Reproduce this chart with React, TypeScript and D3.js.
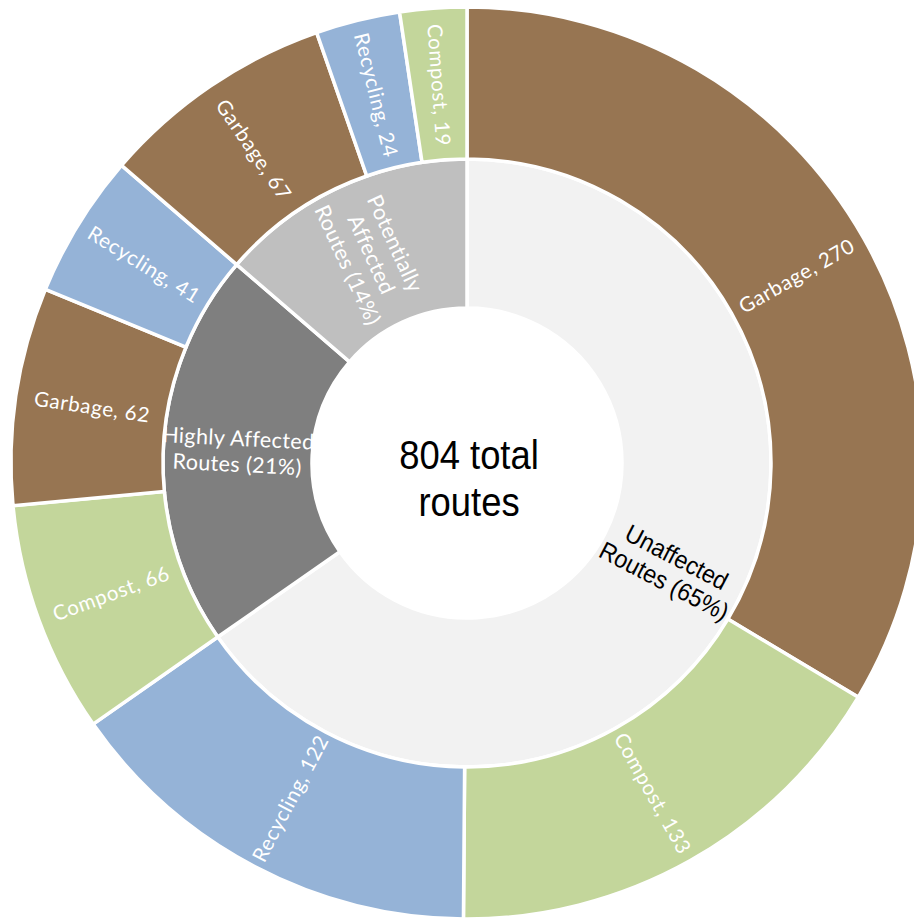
import React from "react";
import * as d3 from "d3";

// ---- data ----
const groupNames = ["Unaffected Routes", "Highly Affected Routes", "Potentially Affected Routes"];
const groupLabelLines = [
  ["Unaffected", "Routes (65%)"],
  ["Highly Affected", "Routes (21%)"],
  ["Potentially", "Affected", "Routes (14%)"],
];
const groupColors = ["#F2F2F2", "#7F7F7F", "#BFBFBF"];
const groupTextColors = ["#000000", "#FFFFFF", "#FFFFFF"];

const outerGroup = [0, 0, 0, 1, 1, 1, 2, 2, 2];
const outerCategories = ["Garbage", "Compost", "Recycling", "Compost", "Garbage", "Recycling", "Garbage", "Recycling", "Compost"];
const outerValues = [270, 133, 122, 66, 62, 41, 67, 24, 19];

const categoryNames = ["Garbage", "Recycling", "Compost"];
const categoryColors = ["#977552", "#95B3D7", "#C3D69B"];

const centerLines = ["804 total", "routes"];

// ---- layout ----
const W = 914;
const H = 919;
const CX = 467;
const CY = 463;
const R_HOLE = 155;
const R_MID = 304;
const R_OUT = 456;

export default function App() {
  const groupTotals = groupNames.map((_, gi) =>
    d3.sum(outerValues.filter((_, i) => outerGroup[i] === gi))
  );
  const pie = d3.pie<number>().sort(null).value((d) => d);
  const innerArcs = pie(groupTotals);
  const outerArcs = pie(outerValues);

  const innerArc = d3.arc<d3.PieArcDatum<number>>().innerRadius(R_HOLE).outerRadius(R_MID);
  const outerArc = d3.arc<d3.PieArcDatum<number>>().innerRadius(R_MID).outerRadius(R_OUT);
  const labelArc = d3.arc<d3.PieArcDatum<number>>().innerRadius(R_MID).outerRadius(R_OUT - 2);
  const color = d3.scaleOrdinal<string, string>().domain(categoryNames).range(categoryColors);

  const rot = (a: d3.PieArcDatum<number>) => {
    const m = ((a.startAngle + a.endAngle) / 2) * (180 / Math.PI);
    return m < 180 ? m - 90 : m - 270;
  };

  return (
    <div style={{ position: "absolute", left: 0, top: 0 }}>
      <svg width={W} height={H} style={{ display: "block", background: "#fff" }}>
        <g transform={`translate(${CX},${CY})`}>
          {innerArcs.map((a, i) => (
            <path key={"i" + i} d={innerArc(a) || ""} fill={groupColors[i]} stroke="#fff" strokeWidth={3.5} />
          ))}
          {outerArcs.map((a, i) => (
            <path key={"o" + i} d={outerArc(a) || ""} fill={color(outerCategories[i])} stroke="#fff" strokeWidth={3.5} />
          ))}
          {outerArcs.map((a, i) => {
            const [x, y] = labelArc.centroid(a);
            return (
              <text
                key={"ol" + i}
                transform={`translate(${x},${y}) rotate(${rot(a)})`}
                textAnchor="middle"
                dy="0.35em"
                fill="#fff"
                style={{ fontFamily: "Lato, 'Open Sans', sans-serif", fontSize: 20.5, letterSpacing: 0.7 }}
              >
                {`${outerCategories[i]}, ${outerValues[i]}`}
              </text>
            );
          })}
          {innerArcs.map((a, i) => {
            const [x, y] = innerArc.centroid(a);
            const lines = groupLabelLines[i];
            const isArial = i === 0;
            const lh = isArial ? 27 : 26;
            const off = -((lines.length - 1) * lh) / 2;
            return (
              <g key={"il" + i} transform={`translate(${x},${y}) rotate(${rot(a)})${isArial ? " scale(0.93,1)" : ""}`}>
                {lines.map((ln, j) => (
                  <text
                    key={j}
                    y={off + j * lh}
                    dy="0.35em"
                    textAnchor="middle"
                    fill={groupTextColors[i]}
                    style={{
                      fontFamily: isArial ? "'Liberation Sans', Arial, sans-serif" : "Lato, 'Open Sans', sans-serif",
                      fontSize: isArial ? 25 : 21.5,
                      letterSpacing: isArial ? 0 : 0.4,
                    }}
                  >
                    {ln}
                  </text>
                ))}
              </g>
            );
          })}
          <g transform="translate(2,14) scale(0.91,1)">
            {centerLines.map((ln, j) => (
              <text
                key={j}
                y={-8 + j * 47}
                textAnchor="middle"
                fill="#000"
                style={{ fontFamily: "'Liberation Sans', Arial, sans-serif", fontSize: 40 }}
              >
                {ln}
              </text>
            ))}
          </g>
        </g>
      </svg>
    </div>
  );
}
